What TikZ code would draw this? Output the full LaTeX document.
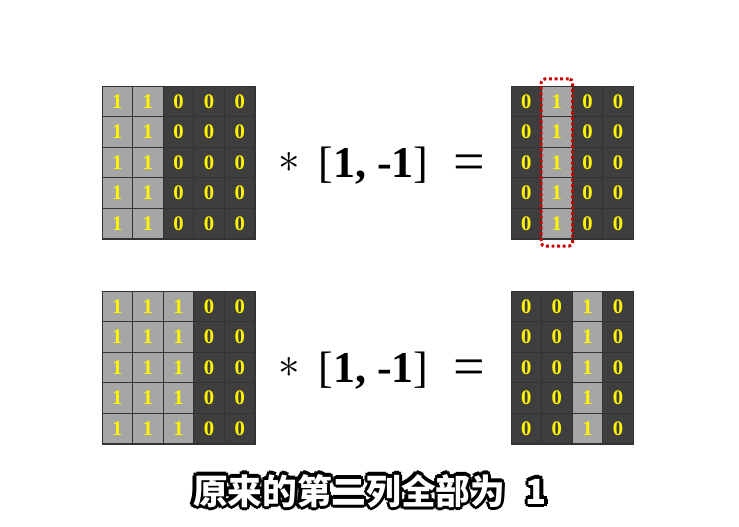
\documentclass[tikz,border=0pt]{standalone}
\usepackage{fontspec}
\setmainfont{Liberation Serif}
\newfontfamily\cjk{Noto Sans CJK SC}
\usepackage{tikz}
\usetikzlibrary{calc,fit}
\definecolor{lightcell}{RGB}{166,166,166}
\definecolor{darkcell}{RGB}{62,62,62}
\definecolor{digit}{RGB}{255,245,0}
\definecolor{dotred}{RGB}{205,0,0}

\begin{document}
\begin{tikzpicture}[x=0.75pt, y=-0.75pt,
    cell/.style={draw=black!80, line width=0.8pt, minimum size=22.9pt, inner sep=0pt,
      text=digit, font=\fontsize{15.5}{15.5}\selectfont\bfseries},
    v1/.style={fill=lightcell},
    v0/.style={fill=darkcell},
    op/.style={inner sep=0pt, font=\fontsize{33}{33}\selectfont},
    caption/.style={inner sep=0pt, font=\cjk\bfseries\fontsize{26}{26}\selectfont}]
        \useasboundingbox (0,0) rectangle (739,526);
        % Define grid corners
        \coordinate (A) at (102,86);
        \coordinate (B) at (511,86);
        \coordinate (C) at (102,291);
        \coordinate (D) at (511,291);
        % Draw the grids
        \foreach \v [count=\c] in {1,1,0,0,0}
          \foreach \r in {1,...,5}
            \node[cell, v\v] (A-\r-\c) at ($(A)+(30.6*\c-15.3,30.6*\r-15.3)$) {\v};
        \foreach \v [count=\c] in {0,1,0,0}
          \foreach \r in {1,...,5}
            \node[cell, v\v] (B-\r-\c) at ($(B)+(30.6*\c-15.3,30.6*\r-15.3)$) {\v};
        \foreach \v [count=\c] in {1,1,1,0,0}
          \foreach \r in {1,...,5}
            \node[cell, v\v] (C-\r-\c) at ($(C)+(30.6*\c-15.3,30.6*\r-15.3)$) {\v};
        \foreach \v [count=\c] in {0,0,1,0}
          \foreach \r in {1,...,5}
            \node[cell, v\v] (D-\r-\c) at ($(D)+(30.6*\c-15.3,30.6*\r-15.3)$) {\v};
        % Highlight the second column
        \node[draw=dotred, dotted, line width=2.2pt, rounded corners=3pt,
          inner xsep=0pt, inner ysep=5pt, fit=(B-1-2)(B-5-2)] (hl) {};
        % Convolution with the kernel
        \node[op, font=\fontsize{24}{24}\selectfont, scale=1.3] (star1) at (289,162) {$\ast$};
        \node[op] (kern1) at (373.5,166) {[\textbf{1, -1}]};
        \node[op, font=\fontsize{42}{42}\selectfont] (eq1) at (469,168) {=};
        \node[op, font=\fontsize{24}{24}\selectfont, scale=1.3] (star2) at (289,367) {$\ast$};
        \node[op] (kern2) at (373.5,371) {[\textbf{1, -1}]};
        \node[op, font=\fontsize{42}{42}\selectfont] (eq2) at (469,373) {=};
        % Caption with outline
        \coordinate (cap) at (370,491);
        \foreach \a [count=\i] in {0,45,...,315}
          \node[caption, text=black] (cap-\i) at ($(cap)+(\a:3.2)$) {原来的第二列全部为\hspace{0.6em}1};
        \node[caption, text=white] (captext) at (cap) {原来的第二列全部为\hspace{0.6em}1};
\end{tikzpicture}
\end{document}
